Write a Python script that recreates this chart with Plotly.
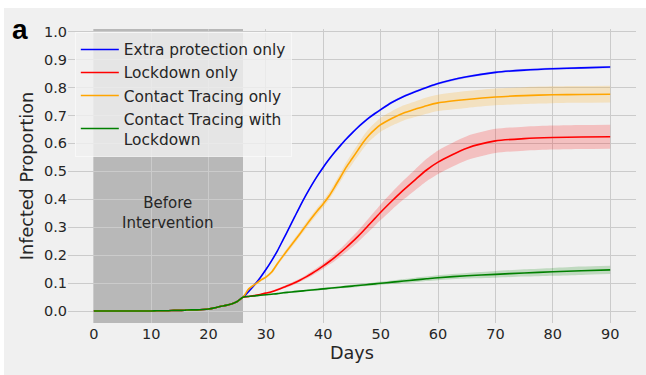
import plotly.graph_objects as go

# Shared epidemic curve before any intervention (days 0-25)
days_pre = list(range(0, 26))
infected_pre = [0.001, 0.001, 0.001, 0.001, 0.001, 0.001, 0.001, 0.001, 0.001, 0.001,
                0.001, 0.002, 0.002, 0.002, 0.003, 0.003, 0.004, 0.005, 0.005, 0.006,
                0.008, 0.012, 0.017, 0.021, 0.026, 0.035]

# Days after the intervention starts
days_post = list(range(26, 51)) + [52, 54, 56, 58, 60, 65, 70, 75, 80, 85, 90]

extra_protection = [0.050, 0.071, 0.094, 0.120, 0.149, 0.181, 0.216, 0.256, 0.296, 0.337,
                    0.378, 0.416, 0.452, 0.485, 0.515, 0.543, 0.569, 0.593, 0.616, 0.637,
                    0.657, 0.675, 0.692, 0.707, 0.721, 0.747, 0.768, 0.785, 0.800, 0.814,
                    0.838, 0.854, 0.862, 0.867, 0.870, 0.873]
extra_protection_sd = [0.0, 0.002, 0.003, 0.003, 0.004, 0.004, 0.004, 0.004, 0.004, 0.004,
                       0.004, 0.004, 0.004, 0.004, 0.004, 0.004, 0.004, 0.004, 0.004, 0.004,
                       0.004, 0.004, 0.004, 0.004, 0.004, 0.004, 0.004, 0.004, 0.004, 0.004,
                       0.004, 0.004, 0.004, 0.004, 0.004, 0.004]

lockdown = [0.050, 0.053, 0.056, 0.060, 0.065, 0.070, 0.077, 0.085, 0.093, 0.102,
            0.112, 0.123, 0.135, 0.148, 0.162, 0.177, 0.193, 0.210, 0.228, 0.247,
            0.267, 0.288, 0.310, 0.332, 0.354, 0.395, 0.434, 0.470, 0.505, 0.533,
            0.583, 0.609, 0.617, 0.621, 0.623, 0.624]
lockdown_sd = [0.0, 0.001, 0.002, 0.002, 0.003, 0.003, 0.004, 0.004, 0.005, 0.006,
               0.006, 0.007, 0.008, 0.009, 0.010, 0.011, 0.013, 0.014, 0.016, 0.018,
               0.020, 0.022, 0.024, 0.026, 0.028, 0.031, 0.034, 0.037, 0.040, 0.042,
               0.043, 0.043, 0.043, 0.043, 0.043, 0.043]

contact_tracing = [0.050, 0.080, 0.095, 0.110, 0.122, 0.140, 0.170, 0.198, 0.225, 0.252,
                   0.279, 0.307, 0.334, 0.360, 0.384, 0.412, 0.445, 0.480, 0.515, 0.545,
                   0.575, 0.605, 0.630, 0.650, 0.667, 0.690, 0.709, 0.722, 0.735, 0.745,
                   0.757, 0.766, 0.771, 0.774, 0.775, 0.776]
contact_tracing_sd = [0.0, 0.003, 0.004, 0.005, 0.005, 0.006, 0.007, 0.008, 0.009, 0.010,
                      0.010, 0.011, 0.011, 0.012, 0.012, 0.013, 0.014, 0.016, 0.018, 0.020,
                      0.021, 0.022, 0.023, 0.024, 0.025, 0.026, 0.027, 0.028, 0.029, 0.029,
                      0.030, 0.030, 0.030, 0.030, 0.030, 0.030]

tracing_lockdown = [0.050, 0.053, 0.055, 0.057, 0.059, 0.061, 0.063, 0.066, 0.068, 0.070,
                    0.072, 0.074, 0.076, 0.078, 0.080, 0.082, 0.084, 0.086, 0.088, 0.090,
                    0.092, 0.094, 0.096, 0.098, 0.100, 0.104, 0.108, 0.112, 0.116, 0.120,
                    0.127, 0.132, 0.137, 0.141, 0.145, 0.148]
tracing_lockdown_sd = [0.0, 0.001, 0.001, 0.002, 0.002, 0.002, 0.002, 0.003, 0.003, 0.003,
                       0.003, 0.003, 0.004, 0.004, 0.004, 0.004, 0.004, 0.004, 0.005, 0.005,
                       0.005, 0.005, 0.005, 0.006, 0.006, 0.006, 0.007, 0.008, 0.008, 0.009,
                       0.010, 0.012, 0.013, 0.014, 0.015, 0.015]

series_names = ["Extra protection only", "Lockdown only", "Contact Tracing only",
                "Contact Tracing with<br>Lockdown"]
series_values = [extra_protection, lockdown, contact_tracing, tracing_lockdown]
series_sd = [extra_protection_sd, lockdown_sd, contact_tracing_sd, tracing_lockdown_sd]
line_colors = ["#0000ff", "#ff0000", "#ffa500", "#008000"]
band_colors = ["rgba(0,0,255,0.2)", "rgba(255,0,0,0.2)", "rgba(255,165,0,0.2)",
               "rgba(0,128,0,0.2)"]

x_ticks = [0, 10, 20, 30, 40, 50, 60, 70, 80, 90]
y_ticks = [0.0, 0.1, 0.2, 0.3, 0.4, 0.5, 0.6, 0.7, 0.8, 0.9, 1.0]
intervention_day = 26

FONT = "DejaVu Sans"
TEXT = "#262626"
SMOOTH = 0.7

fig = go.Figure()

# Uncertainty bands
for vals, sd, bc in zip(series_values, series_sd, band_colors):
    upper = [v + s for v, s in zip(vals, sd)]
    lower = [v - s for v, s in zip(vals, sd)]
    fig.add_trace(go.Scatter(x=days_post, y=upper, mode="lines",
                             line=dict(width=0, shape="spline", smoothing=SMOOTH),
                             showlegend=False, hoverinfo="skip"))
    fig.add_trace(go.Scatter(x=days_post, y=lower, mode="lines",
                             line=dict(width=0, shape="spline", smoothing=SMOOTH),
                             fill="tonexty", fillcolor=bc, showlegend=False,
                             hoverinfo="skip"))

# Mean curves
for name, vals, lc in zip(series_names, series_values, line_colors):
    fig.add_trace(go.Scatter(x=days_pre + days_post, y=infected_pre + vals,
                             mode="lines", name=name, legendgroup=name,
                             line=dict(color=lc, width=1.6, shape="spline",
                                       smoothing=SMOOTH)))

grid = "#cbcbcb"
fig.update_xaxes(range=[-4.5, 94.5], tickvals=x_ticks, showgrid=True, gridcolor=grid,
                 gridwidth=1, zeroline=False, showline=False, ticks="",
                 tickfont=dict(family=FONT, size=14.5, color=TEXT),
                 title=dict(text="Days", font=dict(family=FONT, size=17.6, color=TEXT),
                            standoff=6))
fig.update_yaxes(range=[-0.042, 1.009], tickvals=y_ticks, tickformat=".1f", showgrid=True,
                 gridcolor=grid, gridwidth=1, zeroline=False, showline=False, ticks="",
                 tickfont=dict(family=FONT, size=14.5, color=TEXT),
                 title=dict(text="Infected Proportion",
                            font=dict(family=FONT, size=17.6, color=TEXT), standoff=5))

shapes = [
    # pre-intervention period
    dict(type="rect", xref="x", yref="paper", x0=0, x1=intervention_day, y0=0, y1=1,
         fillcolor="rgba(128,128,128,0.5)", line=dict(width=0), layer="between"),
    # white page edges
    dict(type="rect", xref="paper", yref="paper", x0=-0.3, x1=1.2, y0=1.0714, y1=1.3,
         fillcolor="white", line=dict(width=0), layer="below"),
    dict(type="rect", xref="paper", yref="paper", x0=-0.3, x1=-0.1127, y0=-0.3, y1=1.3,
         fillcolor="white", line=dict(width=0), layer="below"),
]

annotations = [
    dict(x=13, y=0.3525, xref="x", yref="y", text="Before<br>Intervention",
         showarrow=False, font=dict(family=FONT, size=15, color=TEXT),
         xanchor="center", yanchor="middle"),
    dict(x=-0.102, y=0.998, xref="paper", yref="paper", text="<b>a</b>",
         showarrow=False, font=dict(family="Liberation Sans", size=28, color="black"),
         xanchor="left", yanchor="middle"),
]

fig.update_layout(
    width=646, height=375,
    margin=dict(l=68, r=10, t=29, b=52, autoexpand=False),
    paper_bgcolor="#f0f0f0", plot_bgcolor="#f0f0f0",
    shapes=shapes, annotations=annotations,
    showlegend=True,
    legend=dict(x=0.012, y=0.99, xanchor="left", yanchor="top",
                bgcolor="rgba(240,240,240,0.8)", bordercolor="rgba(250,250,250,0.8)",
                borderwidth=1, tracegroupgap=0, itemwidth=38,
                font=dict(family=FONT, size=15.4, color=TEXT)),
)

fig.write_html("out.html")
